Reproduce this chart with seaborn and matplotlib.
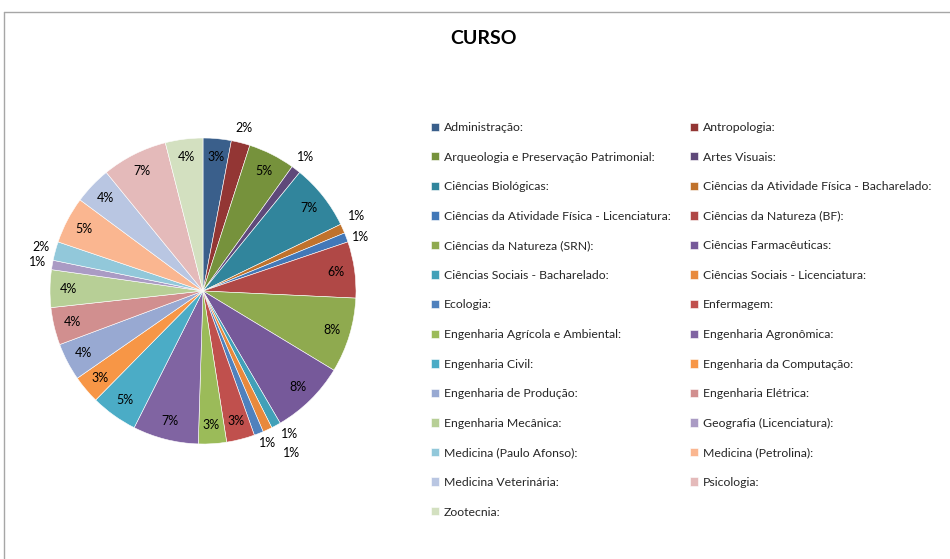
import matplotlib
matplotlib.use("Agg")
import matplotlib.pyplot as plt
import seaborn as sns
import numpy as np
from matplotlib.lines import Line2D

# data (percent of respondents per course)
cursos = [
    "Administração:", "Antropologia:", "Arqueologia e Preservação Patrimonial:",
    "Artes Visuais:", "Ciências Biológicas:", "Ciências da Atividade Física - Bacharelado:",
    "Ciências da Atividade Física - Licenciatura:", "Ciências da Natureza (BF):",
    "Ciências da Natureza (SRN):", "Ciências Farmacêuticas:", "Ciências Sociais - Bacharelado:",
    "Ciências Sociais - Licenciatura:", "Ecologia:", "Enfermagem:",
    "Engenharia Agrícola e Ambiental:", "Engenharia Agronômica:", "Engenharia Civil:",
    "Engenharia da Computação:", "Engenharia de Produção:", "Engenharia Elétrica:",
    "Engenharia Mecânica:", "Geografia (Licenciatura):", "Medicina (Paulo Afonso):",
    "Medicina (Petrolina):", "Medicina Veterinária:", "Psicologia:", "Zootecnia:",
]
percentuais = [3, 2, 5, 1, 7, 1, 1, 6, 8, 8, 1, 1, 1, 3, 3, 7, 5, 3, 4, 4, 4, 1, 2, 5, 4, 7, 4]

cores = [
    "#3A5F8B", "#933634", "#76923C", "#5F497A", "#31859C", "#C0722C",
    "#4278B8", "#B04846", "#8FAA4F", "#76599A", "#41A0B8", "#E8893C",
    "#4F81BD", "#C0504D", "#9BBB59", "#8064A2", "#4BACC6", "#F79646",
    "#98A9D2", "#D18F8F", "#B7CF96", "#AA9BC4", "#92C8DA", "#FAB690",
    "#B9C6E2", "#E4BABA", "#D3E0C0",
]

sns.set_theme(style="white")
plt.rcParams["font.family"] = ["Lato", "DejaVu Sans"]

fig = plt.figure(figsize=(9.5, 5.59), dpi=100)
W, H = 950, 559

# chart frame (top and left border)
fig.add_artist(Line2D([4 / W, 4 / W], [0, 1 - 12 / H], color="#A6A6A6", lw=1))
fig.add_artist(Line2D([4 / W, 1], [1 - 12 / H, 1 - 12 / H], color="#A6A6A6", lw=1))

fig.text(483 / W, 1 - 38 / H, "CURSO", ha="center", va="center",
         fontsize=14, fontweight="bold", color="black")

cx, cy, r = 203, 291, 153
ax = fig.add_axes([(cx - r) / W, (H - cy - r) / H, 2 * r / W, 2 * r / H])
pal = sns.color_palette(cores)
wedges, _ = ax.pie(percentuais, colors=pal, startangle=90, counterclock=False,
                   radius=1, wedgeprops=dict(edgecolor="white", linewidth=0.4))
ax.set_xlim(-1, 1)
ax.set_ylim(-1, 1)
ax.set_aspect("auto")
ax.axis("off")

# small nudges for crowded outside labels (in radius units)
ajustes = {5: (0, 0.04), 6: (0, -0.03), 10: (0.04, 0.034), 11: (-0.044, 0.007), 12: (0.18, -0.033)}
for i, (w, p) in enumerate(zip(wedges, percentuais)):
    ang = np.deg2rad((w.theta1 + w.theta2) / 2)
    dist = 0.88 if p >= 3 else 1.1
    x, y = dist * np.cos(ang), dist * np.sin(ang)
    dx, dy = ajustes.get(i, (0, 0))
    ax.text(x + dx, y + dy, f"{p}%", ha="center", va="center", fontsize=9,
            color="black", clip_on=False)

# legend filled row by row across two columns
ordem = list(range(0, len(cursos), 2)) + list(range(1, len(cursos), 2))
leg = fig.legend([wedges[i] for i in ordem], [cursos[i] for i in ordem],
                 loc="upper left", bbox_to_anchor=(431 / W, 1 - 122 / H), ncol=2,
                 frameon=False, fontsize=8.8, handlelength=0.68, handleheight=0.68,
                 handletextpad=0.38, labelspacing=1.52, columnspacing=1.55,
                 borderaxespad=0, borderpad=0)
for t in leg.get_texts():
    t.set_color("#262626")

fig.savefig("out.png", dpi=100)
